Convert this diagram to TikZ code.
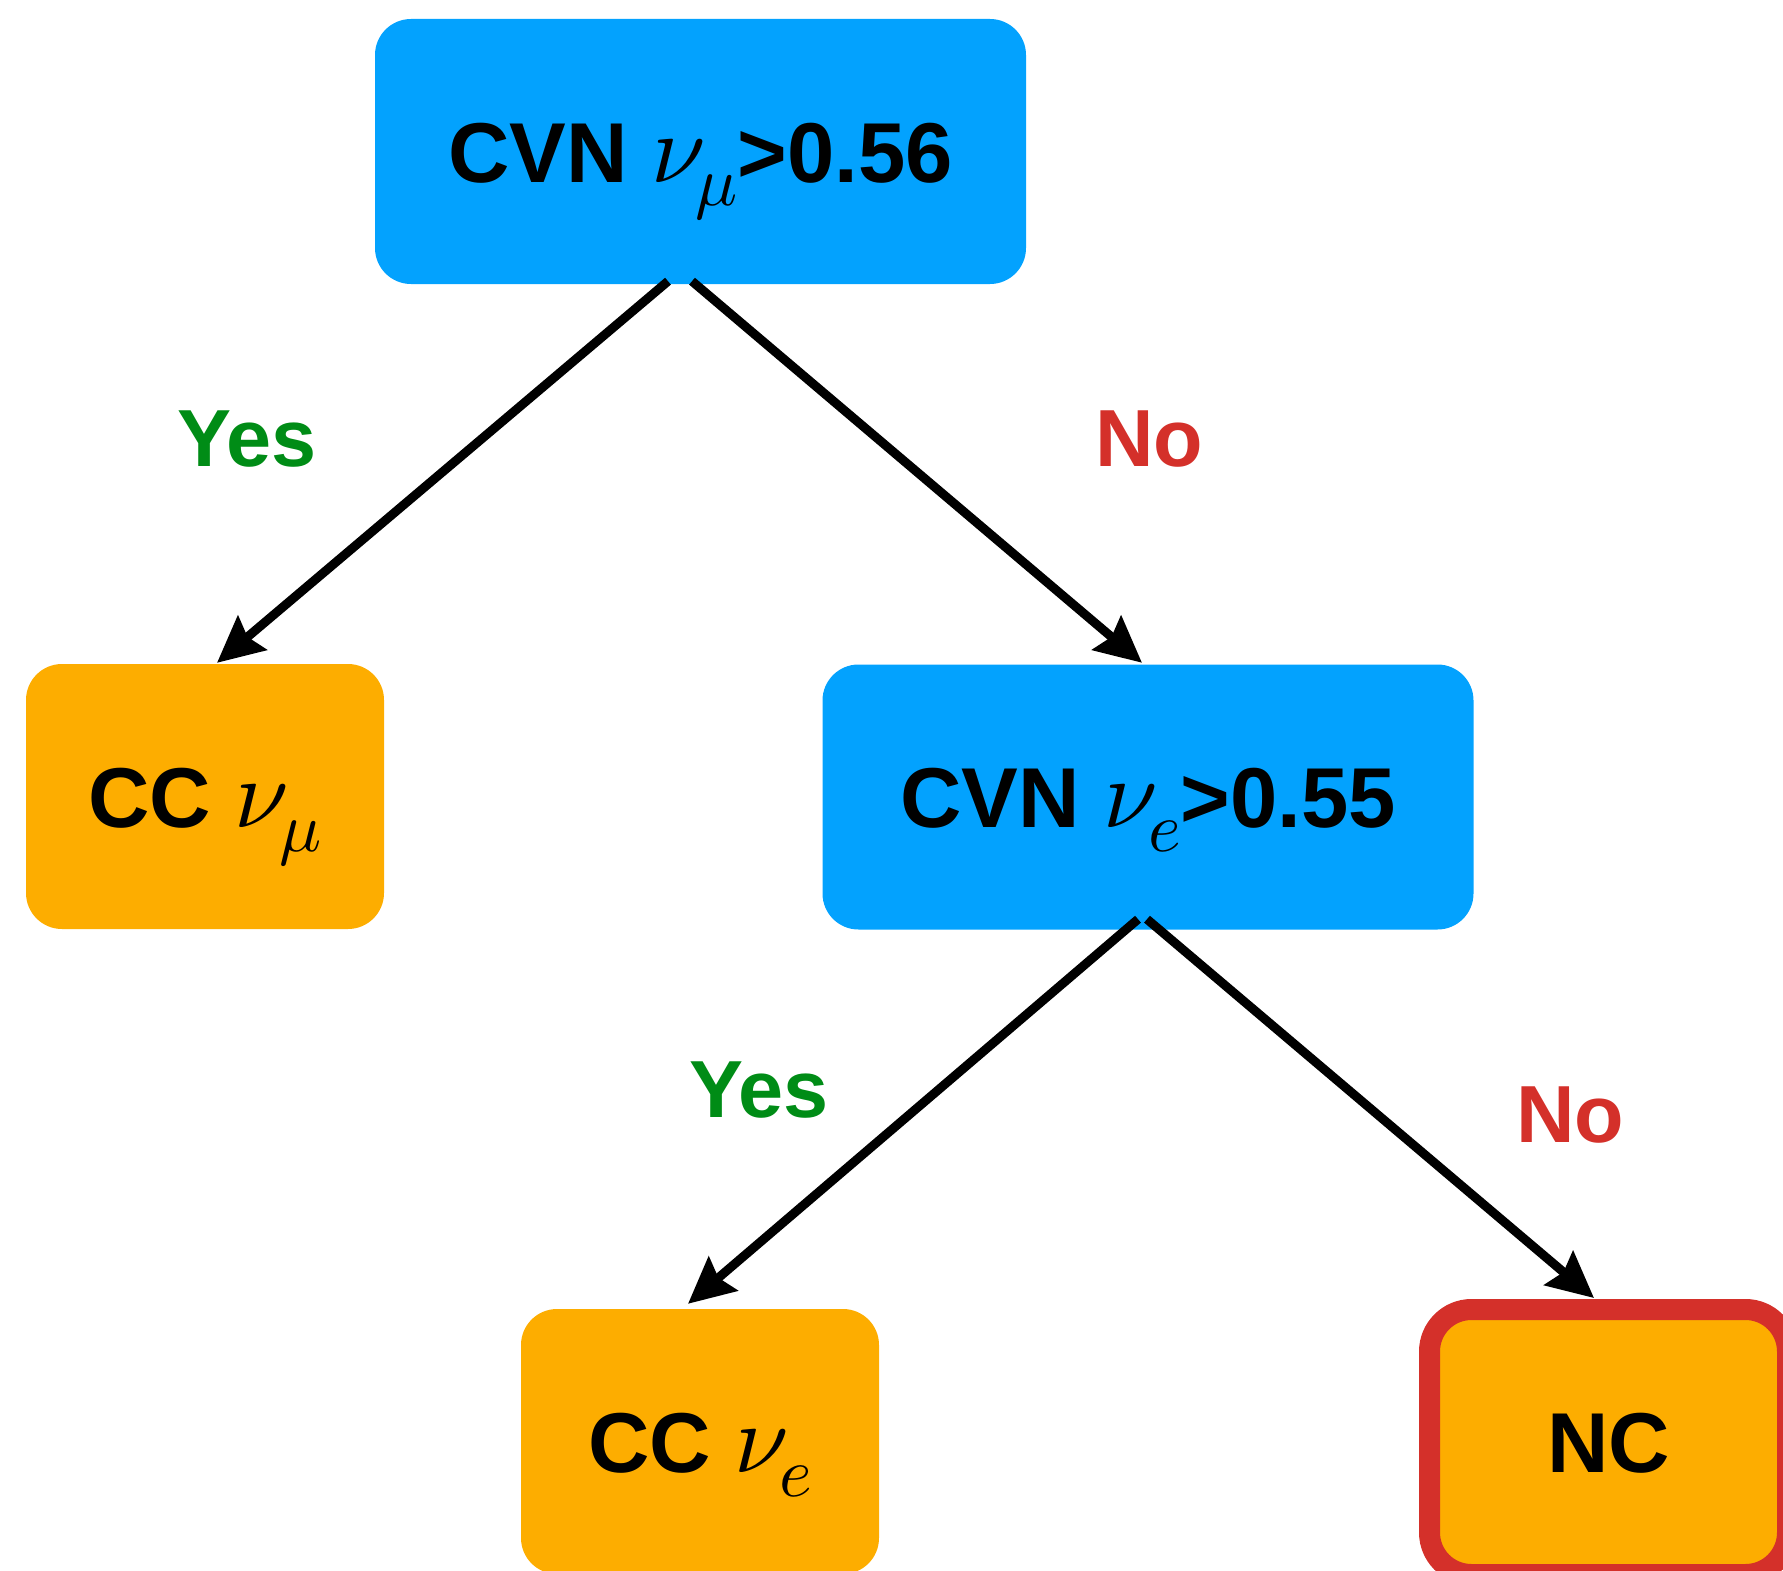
\documentclass[tikz,border=0pt]{standalone}
\usepackage{fontspec}
\setmainfont{Liberation Sans}
\usetikzlibrary{arrows.meta,calc}
\definecolor{cvnblue}{RGB}{3,162,254}
\definecolor{ccorange}{RGB}{253,173,0}
\definecolor{yesgreen}{RGB}{0,140,22}
\definecolor{nored}{RGB}{212,48,42}
\newcommand\nusub[1]{{\normalsize\scalebox{9.8}{$\nu$}\kern-10pt\raisebox{-24pt}{\scalebox{7}{$#1$}}}}
\begin{document}
\begin{tikzpicture}[x=1pt,y=-1pt,
  basebox/.style={rounded corners=36pt, minimum height=265pt, inner sep=0pt,
    text height=61pt, text depth=0pt, font=\fontsize{85}{100}\selectfont\bfseries},
  bluebox/.style={basebox, fill=cvnblue, minimum width=651pt},
  orangebox/.style={basebox, fill=ccorange, minimum width=358pt},
  ncbox/.style={orangebox, draw=nored, line width=21pt, rounded corners=42pt},
  arr/.style={line width=9pt, -{Stealth[length=46pt,width=44pt,inset=6pt]}},
  lbl/.style={inner sep=0pt, text height=59pt, text depth=0pt, font=\fontsize{81}{100}\selectfont\bfseries},
  yeslbl/.style={lbl, text=yesgreen},
  nolbl/.style={lbl, text=nored}]
\useasboundingbox (0,0) rectangle (1783,1571);
\clip (0,0) rectangle (1783,1571);

\node[bluebox] (top) at (700.5,151.5) {CVN \nusub{\mu}>0.56};
\node[orangebox] (ccmu) at (205,796.5) {CC \nusub{\mu}};
\node[bluebox] (cvne) at (1148,797) {CVN \nusub{e}>0.55};
\node[orangebox] (cce) at (700,1441.5) {CC \nusub{e}};
\node[ncbox] (nc) at (1608.5,1442) {NC};

\node[yeslbl] (y1) at (247,437) {Yes};
\node[nolbl] (n1) at (1149,437) {No};
\node[yeslbl] (y2) at (759,1088) {Yes};
\node[nolbl] (n2) at (1570,1113) {No};

\draw[arr] ($(top.south)+(-32.5,-3)$) -- ($(ccmu.north)+(12,-1)$);
\draw[arr] ($(top.south)+(-8.5,-3)$) -- ($(cvne.north)+(-6,-1.5)$);
\draw[arr] ($(cvne.south)+(-10,-10.5)$) -- ($(cce.north)+(-12,-5)$);
\draw[arr] ($(cvne.south)+(-1,-10.5)$) -- ($(nc.north)+(-14.5,-1)$);
\end{tikzpicture}
\end{document}
